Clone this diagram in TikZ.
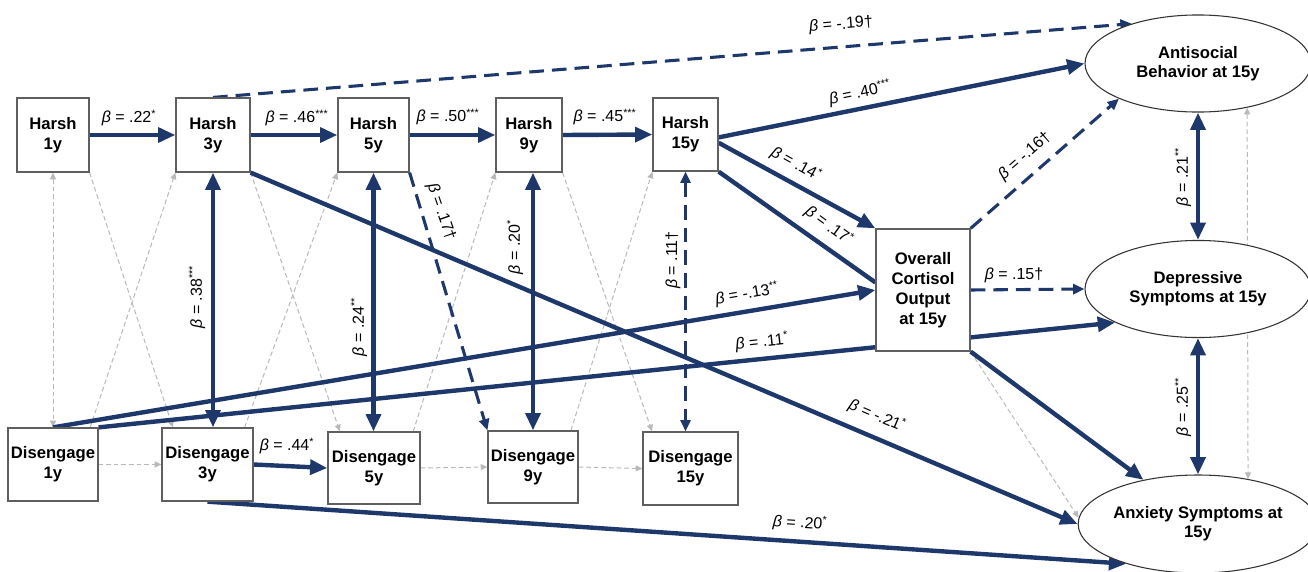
\documentclass[tikz,border=0pt]{standalone}
\usepackage{fontspec}
\setmainfont{Liberation Sans}
\usetikzlibrary{arrows.meta,shapes.geometric,backgrounds}
\definecolor{navy}{RGB}{31,56,107}
\definecolor{lgray}{RGB}{185,185,185}
\definecolor{bgray}{RGB}{95,95,95}
\newcommand{\bet}{\textit{β}}
\begin{document}
\begin{tikzpicture}[x=0.75pt,y=-0.75pt,
  box/.style={draw=bgray, fill=white, line width=0.9pt, align=center, inner sep=0pt, font=\fontsize{12.5}{15}\selectfont\bfseries},
  oval/.style={ellipse, draw=black!80, fill=white, line width=0.8pt, align=center, inner sep=0pt, minimum width=169.5pt, font=\fontsize{12.5}{14.5}\selectfont\bfseries},
  sig/.style={draw=navy, line width=3.3pt, -{Triangle[length=13pt,width=11pt]}},
  sigline/.style={draw=navy, line width=3.3pt},
  sigboth/.style={draw=navy, line width=3.3pt, {Triangle[length=13pt,width=11pt]}-{Triangle[length=13pt,width=11pt]}},
  trend/.style={draw=navy, line width=2.3pt, dash pattern=on 11pt off 6pt, -{Triangle[length=8.5pt,width=7.5pt]}},
  trendboth/.style={draw=navy, line width=2.3pt, dash pattern=on 11pt off 6pt, {Triangle[length=8.5pt,width=7.5pt]}-{Triangle[length=8.5pt,width=7.5pt]}},
  ns/.style={draw=lgray, line width=0.75pt, dash pattern=on 3.5pt off 2.2pt, -{Triangle[length=5pt,width=4.5pt]}},
  nsboth/.style={draw=lgray, line width=0.75pt, dash pattern=on 3.5pt off 2.2pt, {Triangle[length=5pt,width=4.5pt]}-{Triangle[length=5pt,width=4.5pt]}},
  lbl/.style={font=\fontsize{12}{14}\selectfont, inner sep=1pt},
]
\useasboundingbox (0,0) rectangle (1308,571);

% Harsh row
\node[box, minimum width=54pt, minimum height=55.5pt] (H1) at (53,135) {Harsh\\1y};
\node[box, minimum width=55.5pt, minimum height=55.5pt] (H3) at (213,135) {Harsh\\3y};
\node[box, minimum width=53.3pt, minimum height=55.5pt] (H5) at (373.5,135) {Harsh\\5y};
\node[box, minimum width=49.5pt, minimum height=55.5pt] (H9) at (529,135) {Harsh\\9y};
\node[box, minimum width=48.8pt, minimum height=54.8pt] (H15) at (685.5,134.5) {Harsh\\15y};
% Disengage row
\node[box, minimum width=67.5pt, minimum height=54.8pt] (D1) at (53,464.5) {Disengage\\1y};
\node[box, minimum width=68.3pt, minimum height=54.8pt] (D3) at (207.5,464.5) {Disengage\\3y};
\node[box, minimum width=69pt, minimum height=54pt] (D5) at (374,468) {Disengage\\5y};
\node[box, minimum width=67.5pt, minimum height=54pt] (D9) at (533,467) {Disengage\\9y};
\node[box, minimum width=71.3pt, minimum height=54.8pt] (D15) at (690.5,468.5) {Disengage\\15y};
% Cortisol
\node[box, minimum width=70.5pt, minimum height=91.5pt] (C) at (923,290) {Overall\\Cortisol\\Output\\at 15y};
% Outcomes
\node[oval, minimum height=72.8pt] (A) at (1198,63.5) {Antisocial\\Behavior at 15y};
\node[oval, minimum height=72.8pt] (Dp) at (1198,289) {Depressive\\Symptoms at 15y};
\node[oval, minimum height=73.5pt] (Ax) at (1198,524) {Anxiety Symptoms at\\15y};

\begin{pgfonlayer}{background}
% non-significant paths
\draw[nsboth] (H1.south) -- (D1.north);
\draw[ns] (H1.south east) -- (D3.133);
\draw[ns] (D1.45) -- (H3.south west);
\draw[ns] (H3.south east) -- (D5.133);
\draw[ns] (D3.45) -- (H5.south west);
\draw[ns] (D5.43) -- (H9.south west);
\draw[ns] (H9.south east) -- (D15.136);
\draw[ns] (D9.44) -- (H15.south west);
\draw[ns] (D1.east) -- (D3.west);
\draw[ns] (D5.east) -- (D9.west);
\draw[ns] (D9.east) -- (D15.west);
\draw[ns] (C.south east) -- (Ax.177);
\draw[nsboth] (A.-42) -- (Ax.42);
% significant paths
\draw[sig] (H1.east) -- (H3.west);
\draw[sig] (H3.east) -- (H5.west);
\draw[sig] (H5.east) -- (H9.west);
\draw[sig] (H9.east) -- (H15.west);
\draw[sig] (D3.east) -- (D5.west);
\draw[trend] (H3.north) -- (A.149);
\draw[sig] (H15.-5) -- (A.west);
\draw[sig] (H15.-14) -- (C.north west);
\draw[sigline] (H15.south east) -- (C.171);
\draw[trend] (C.north east) -- (A.204);
\draw[trend] (C.east) -- (Dp.west);
\draw[sig] (D1.north) -- (C.west);
\draw[sig] (D1.north east) -- (Dp.202);
\draw[sig] (H3.south east) -- (Ax.west);
\draw[sig] (C.south east) -- (Ax.141);
\draw[sig] (D3.south) -- (Ax.209);
\draw[trend] (H5.south east) -- (D9.north west);
\draw[sigboth] (H3.south) -- (H3.south |- D3.north);
\draw[sigboth] (H5.south) -- (H5.south |- D5.north);
\draw[sigboth] (D9.north |- H9.south) -- (D9.north);
\draw[trendboth] (H15.south) -- (H15.south |- D15.north);
\draw[sigboth] (A.south) -- (Dp.north);
\draw[sigboth] (Dp.south) -- (Ax.north);
\end{pgfonlayer}

% labels
\node[lbl] (l1) at (129,118) {\bet{} = .22\textsuperscript{*}};
\node[lbl] (l2) at (297,118) {\bet{} = .46\textsuperscript{***}};
\node[lbl] (l3) at (448,117) {\bet{} = .50\textsuperscript{***}};
\node[lbl] (l4) at (605,117) {\bet{} = .45\textsuperscript{***}};
\node[lbl] (l5) at (287,446) {\bet{} = .44\textsuperscript{*}};
\node[lbl, rotate=4.6] (l6) at (841,25) {\bet{} = -.19†};
\node[lbl, rotate=11.5] (l7) at (860,93) {\bet{} = .40\textsuperscript{***}};
\node[lbl, rotate=-29] (l8) at (796,164) {\bet{} = .14\textsuperscript{*}};
\node[lbl, rotate=-36] (l9) at (829,226) {\bet{} = .17\textsuperscript{*}};
\node[lbl, rotate=41] (l10) at (1025,156) {\bet{} = -.16†};
\node[lbl] (l11) at (1014,275) {\bet{} = .15†};
\node[lbl, rotate=9.5] (l12) at (747,294) {\bet{} = -.13\textsuperscript{**}};
\node[lbl, rotate=6.2] (l13) at (762,342) {\bet{} = .11\textsuperscript{*}};
\node[lbl, rotate=-23] (l14) at (877,416) {\bet{} = -.21\textsuperscript{*}};
\node[lbl, rotate=-3.8] (l15) at (800,523) {\bet{} = .20\textsuperscript{*}};
\node[lbl, rotate=-71] (l16) at (441,212) {\bet{} = .17†};
\node[lbl, rotate=90] (l17) at (197,297) {\bet{} = .38\textsuperscript{***}};
\node[lbl, rotate=90] (l18) at (359,327) {\bet{} = .24\textsuperscript{**}};
\node[lbl, rotate=90] (l19) at (515,247) {\bet{} = .20\textsuperscript{*}};
\node[lbl, rotate=90] (l20) at (673,260) {\bet{} = .11†};
\node[lbl, rotate=90] (l21) at (1183,177) {\bet{} = .21\textsuperscript{**}};
\node[lbl, rotate=90] (l22) at (1183,407) {\bet{} = .25\textsuperscript{**}};
\end{tikzpicture}
\end{document}
